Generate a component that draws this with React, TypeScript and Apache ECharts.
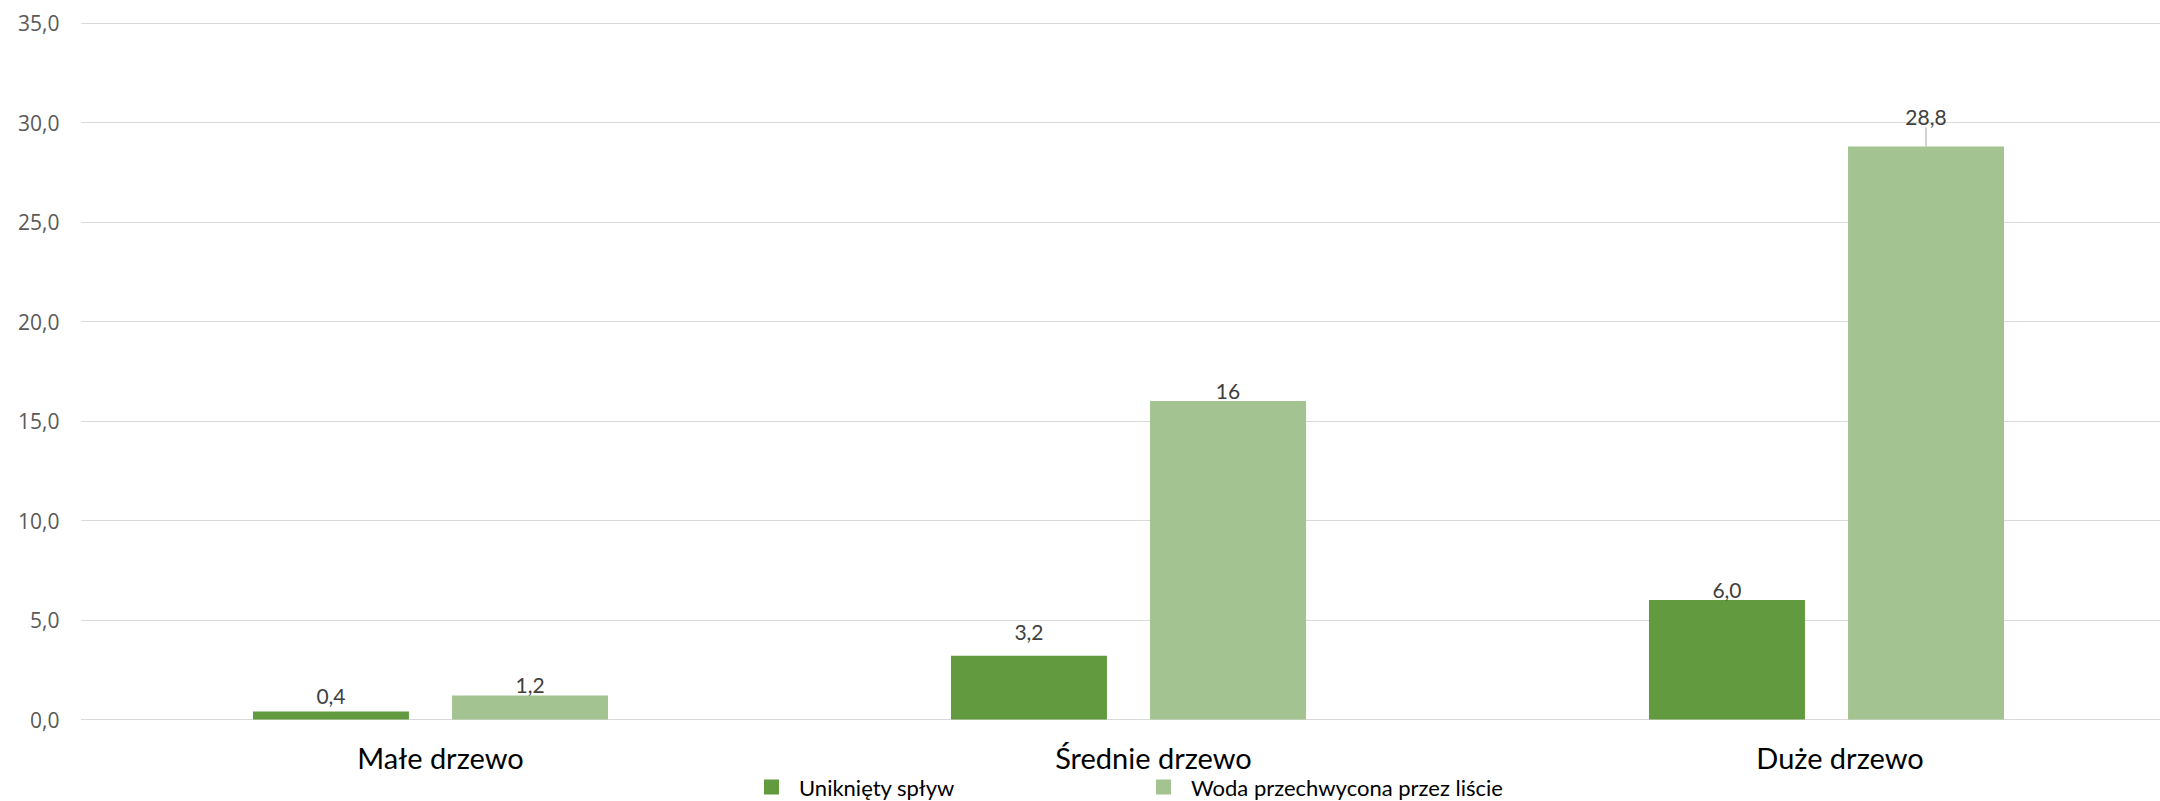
import React, { useEffect, useRef } from "react";
import * as echarts from "echarts";

const categories = ["Małe drzewo", "Średnie drzewo", "Duże drzewo"];
const seriesNames = ["Uniknięty spływ", "Woda przechwycona przez liście"];
const avoidedRunoff = [0.4, 3.2, 6.0];
const interceptedWater = [1.2, 16, 28.8];
const avoidedRunoffLabels = ["0,4", "3,2", "6,0"];
const interceptedWaterLabels = ["1,2", "16", "28,8"];
const yTicks = { min: 0, max: 35, interval: 5 };

// label vertical nudges (styling only)
const avoidedNudge = [-5, -13, 0];
const interceptedNudge = [5, 0, 0];
const categoryShift = [20, 50, 27];

const DARK = "#629B3F";
const LIGHT = "#A3C490";

export default function App() {
  const ref = useRef<HTMLDivElement>(null);
  useEffect(() => {
    document.body.style.margin = "0";
    document.body.style.overflow = "hidden";
    document.documentElement.style.overflow = "hidden";
    const chart = echarts.init(ref.current!, null, { renderer: "svg" });
    const dataLabel = {
      show: true,
      position: "top",
      distance: 0,
      fontFamily: "Lato",
      fontSize: 21,
      lineHeight: 22,
      color: "#404040",
    };
    const rich: any = {};
    categoryShift.forEach((s, i) => {
      rich["c" + i] = {
        fontFamily: "Lato",
        fontSize: 29,
        lineHeight: 34,
        color: "#000",
        padding: [0, 0, 0, s],
      };
    });
    chart.setOption({
      animation: false,
      backgroundColor: "#fff",
      grid: { left: 81.5, top: 23, width: 2094, height: 696.5, containLabel: false },
      legend: {
        data: seriesNames,
        left: 764,
        top: 774,
        padding: 0,
        itemWidth: 15,
        itemHeight: 15,
        itemGap: 0,
        icon: "rect",
        textStyle: {
          fontFamily: "Lato",
          fontSize: 22,
          lineHeight: 26,
          color: "#000",
          width: 357,
          padding: [0, 0, 0, 15],
        },
      },
      xAxis: {
        type: "category",
        data: categories,
        axisLine: { show: true, lineStyle: { color: "#D9D9D9", width: 1 } },
        axisTick: { show: false },
        axisLabel: {
          margin: 21,
          formatter: (v: string, i: number) => `{c${i}|${v}}`,
          rich,
        },
      },
      yAxis: {
        type: "value",
        min: yTicks.min,
        max: yTicks.max,
        interval: yTicks.interval,
        axisLine: { show: false },
        axisTick: { show: false },
        splitLine: { lineStyle: { color: "#D9D9D9", width: 1 } },
        axisLabel: {
          margin: 22,
          fontFamily: "Open Sans",
          fontSize: 21,
          color: "#595959",
          formatter: (v: number) => v.toFixed(1).replace(".", ","),
        },
      },
      series: [
        {
          name: seriesNames[0],
          type: "bar",
          barWidth: 156,
          barGap: "27.6%",
          itemStyle: { color: DARK },
          label: dataLabel,
          data: avoidedRunoff.map((v, i) => ({
            value: v,
            label: { formatter: avoidedRunoffLabels[i], offset: [0, avoidedNudge[i]] },
          })),
        },
        {
          name: seriesNames[1],
          type: "bar",
          barWidth: 156,
          barGap: "27.6%",
          itemStyle: { color: LIGHT },
          label: dataLabel,
          labelLine: { show: false, lineStyle: { color: "#A6A6A6", width: 1 } },
          labelLayout: (p: any) => (p.dataIndex === 2 ? { dy: -19 } : {}),
          data: interceptedWater.map((v, i) => ({
            value: v,
            label: { formatter: interceptedWaterLabels[i], offset: [0, interceptedNudge[i]] },
            labelLine: i === 2 ? { show: true, lineStyle: { color: "#A6A6A6", width: 1 } } : { show: false },
          })),
        },
      ],
    });
    return () => chart.dispose();
  }, []);
  return <div ref={ref} style={{ width: 2176, height: 801 }} />;
}
